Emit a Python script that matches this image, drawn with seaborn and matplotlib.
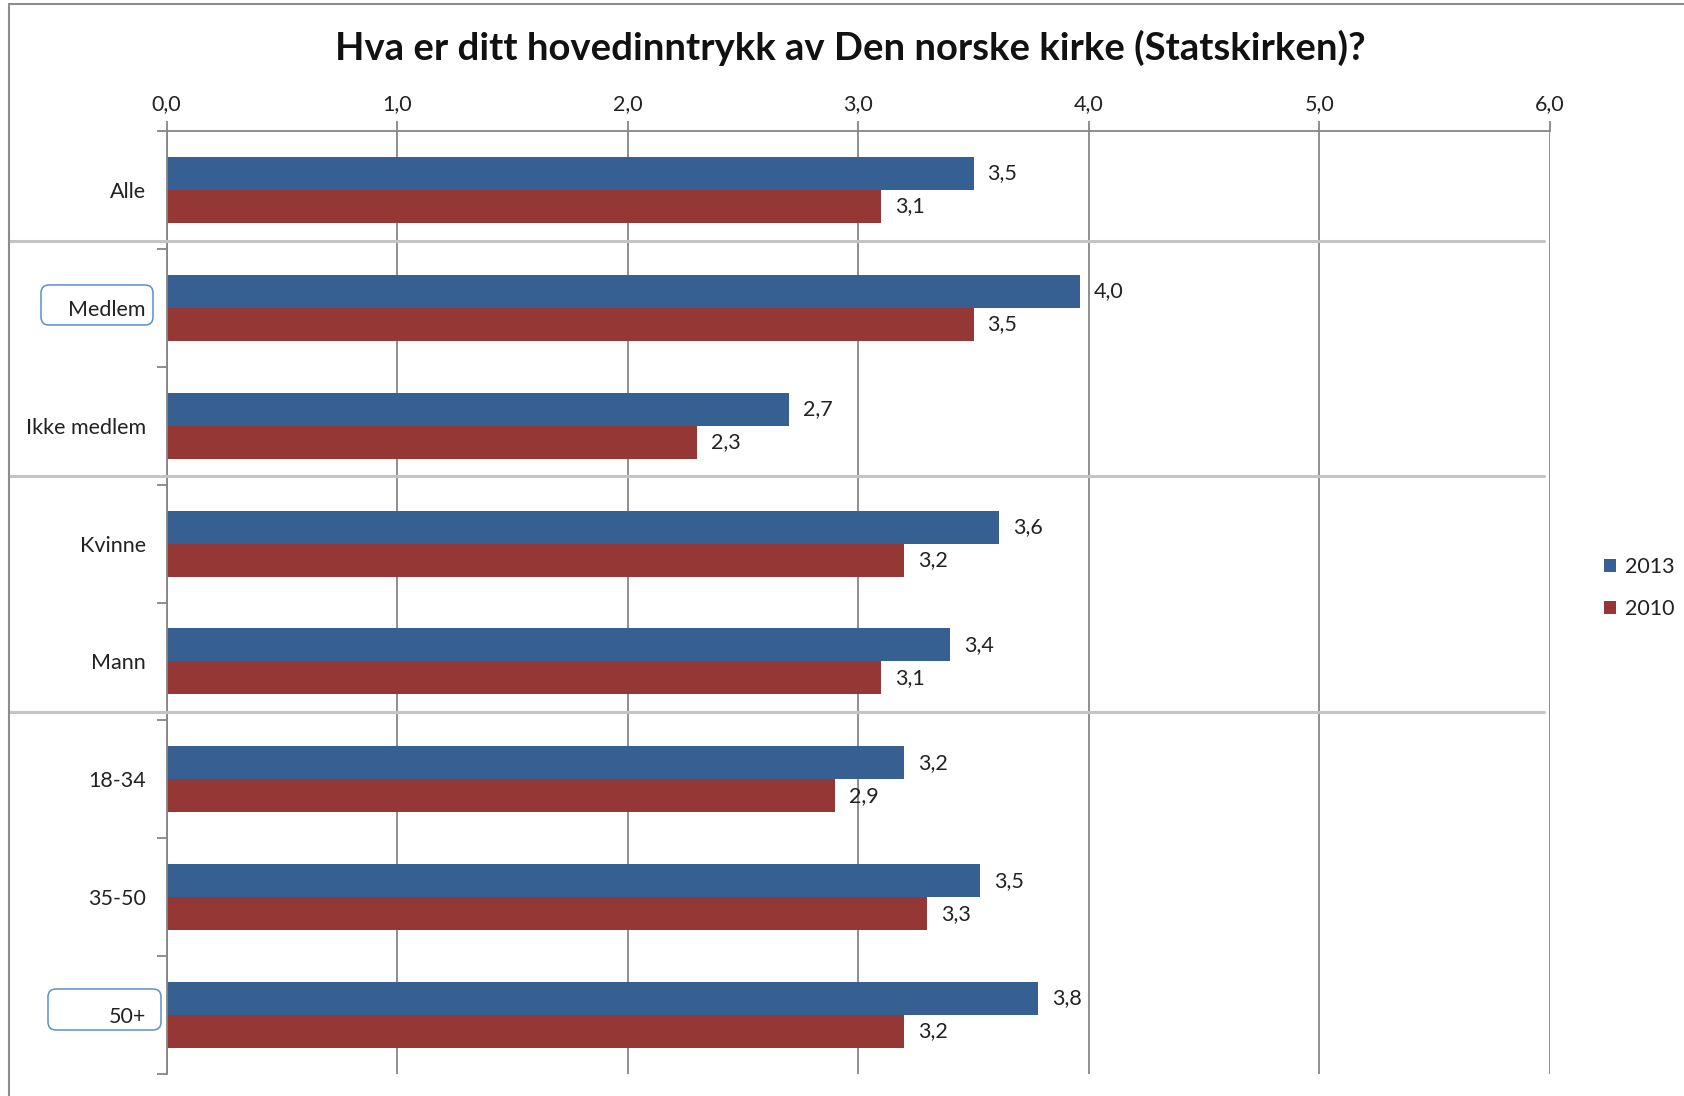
import matplotlib
matplotlib.use("Agg")
import numpy as np
import pandas as pd
import seaborn as sns
import matplotlib.pyplot as plt
from matplotlib.patches import FancyBboxPatch, Patch
from matplotlib.lines import Line2D
from matplotlib.transforms import IdentityTransform, blended_transform_factory

title = "Hva er ditt hovedinntrykk av Den norske kirke (Statskirken)?"
categories = ["Alle", "Medlem", "Ikke medlem", "Kvinne", "Mann", "18-34", "35-50", "50+"]
years = ["2013", "2010"]
values_2013 = [3.50, 3.96, 2.70, 3.61, 3.40, 3.20, 3.53, 3.78]
values_2010 = [3.10, 3.50, 2.30, 3.20, 3.10, 2.90, 3.30, 3.20]
group_sizes = [1, 2, 2, 3]
xticks = [0, 1, 2, 3, 4, 5, 6]
colors = ["#376092", "#953735"]

W, H = 1684, 1096
GRID = "#868686"
TXT = "#222222"
FS = 15.5


def fx(px):
    return px / W


def fy(py):
    return 1 - py / H


def fmt(v):
    return f"{v:.1f}".replace(".", ",")


sns.set_style("white")
plt.rcParams["font.family"] = ["Lato", "DejaVu Sans"]

df = pd.DataFrame({
    "group": categories * 2,
    "year": [years[0]] * len(categories) + [years[1]] * len(categories),
    "value": values_2013 + values_2010,
})

fig = plt.figure(figsize=(W / 100, H / 100), dpi=100)
ax = fig.add_axes([fx(166.5), fy(1074), fx(1550) - fx(166.5), fy(131) - fy(1074)])
sns.barplot(data=df, x="value", y="group", hue="year", hue_order=years,
            order=categories, palette=colors, orient="h", width=0.56,
            saturation=1, edgecolor="none", legend=False, ax=ax)

ax.set_xlim(0, 6)
ax.set_ylim(len(categories) - 0.5, -0.5)
ax.set_xlabel("")
ax.set_ylabel("")
ax.set_xticks(xticks)
ax.set_xticklabels([fmt(t) for t in xticks])
ax.xaxis.tick_top()
ax.grid(axis="x", color=GRID, linewidth=1.3)
ax.set_axisbelow(True)
for side in ["bottom", "right"]:
    ax.spines[side].set_visible(False)
for side in ["top", "left"]:
    ax.spines[side].set_color(GRID)
    ax.spines[side].set_linewidth(1.3)

ax.set_yticks(np.arange(-0.5, len(categories), 1), minor=True)
ax.tick_params(axis="y", which="major", length=0, pad=15, labelsize=FS, labelcolor=TXT)
ax.tick_params(axis="y", which="minor", length=7, width=1.3, color=GRID, left=True)
ax.tick_params(axis="x", which="major", length=7, width=1.3, color=GRID, pad=5,
               labelsize=FS, labelcolor=TXT)

for container, vals in zip(ax.containers, [values_2013, values_2010]):
    ax.bar_label(container, labels=[fmt(v) for v in vals], padding=10,
                 fontsize=FS, color=TXT)

# group separators
trans = blended_transform_factory(fig.transFigure, ax.transData)
pos = -0.5
for n in group_sizes[:-1]:
    pos += n
    fig.add_artist(Line2D([fx(9), fx(1544)], [pos - 0.07, pos - 0.07], transform=trans,
                          color="#c4c4c4", linewidth=2.2))

# outer frame
fig.add_artist(Line2D([9, 9], [0, H - 4], transform=IdentityTransform(),
                      color="#8c8c8c", linewidth=1.5))
fig.add_artist(Line2D([9, W], [H - 4, H - 4], transform=IdentityTransform(),
                      color="#8c8c8c", linewidth=1.5))

# rounded boxes around some labels
for (x0, y0, x1, y1) in [(41, 285, 153, 325), (48, 989, 161, 1030)]:
    fig.add_artist(FancyBboxPatch((x0, H - y1), x1 - x0, y1 - y0,
                                  boxstyle="round,pad=0,rounding_size=8",
                                  transform=IdentityTransform(), fill=False,
                                  edgecolor="#5b8fc9", linewidth=1.1))

fig.text(fx(850), fy(48), title, ha="center", va="center", fontsize=27.5,
         fontweight="bold", color="#111111")

handles = [Patch(facecolor=c, edgecolor="none") for c in colors]
fig.legend(handles, years, loc="center left", bbox_to_anchor=(fx(1585), fy(588)),
           frameon=False, fontsize=FS, handlelength=0.55, handleheight=0.55,
           handletextpad=0.4, labelspacing=1.0, labelcolor=TXT)

fig.savefig("out.png", dpi=100)
